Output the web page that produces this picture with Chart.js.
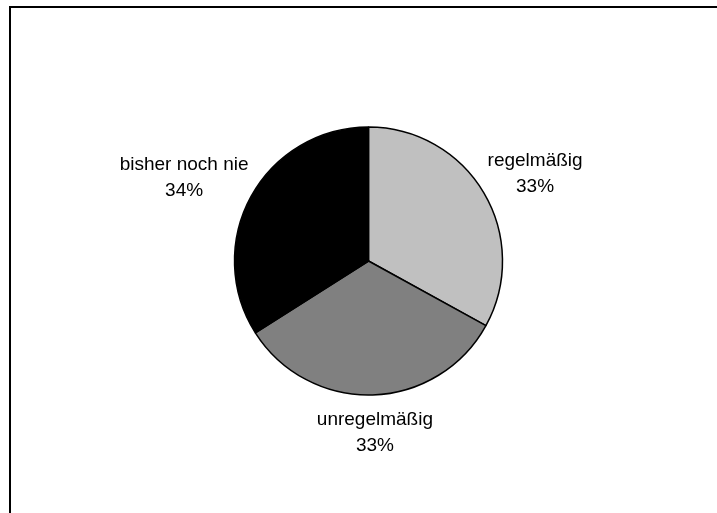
<!DOCTYPE html>
<html>
<head>
<meta charset="utf-8">
<script src="https://cdn.jsdelivr.net/npm/chart.js@4/dist/chart.umd.min.js"></script>
<style>
  html, body { margin: 0; padding: 0; background: #ffffff; }
  #c { display: block; }
</style>
</head>
<body>
<canvas id="c" width="717" height="513"></canvas>
<script>
const categories = ['regelmäßig', 'unregelmäßig', 'bisher noch nie'];
const shares = [33, 33, 34];
const sliceColors = ['#C0C0C0', '#808080', '#000000'];

const FONT = '19px "Liberation Sans", Arial, sans-serif';

const framePlugin = {
  id: 'frame',
  beforeDraw(chart) {
    const ctx = chart.ctx;
    ctx.save();
    ctx.fillStyle = '#ffffff';
    ctx.fillRect(0, 0, chart.width, chart.height);
    ctx.strokeStyle = '#000000';
    ctx.lineWidth = 2;
    ctx.strokeRect(10, 7, chart.width + 20, chart.height + 20);
    ctx.restore();
  }
};

const labelPlugin = {
  id: 'sliceLabels',
  afterDatasetsDraw(chart) {
    const ctx = chart.ctx;
    const meta = chart.getDatasetMeta(0);
    const data = chart.data.datasets[0].data;
    ctx.save();
    ctx.font = FONT;
    ctx.fillStyle = '#000000';
    ctx.textAlign = 'center';
    ctx.textBaseline = 'middle';
    const lineH = 26;
    meta.data.forEach((arc, i) => {
      const p = arc.getProps(['x', 'y', 'startAngle', 'endAngle', 'outerRadius'], true);
      const mid = (p.startAngle + p.endAngle) / 2;
      const dx = Math.cos(mid), dy = Math.sin(mid);
      const lines = [chart.data.labels[i], data[i] + '%'];
      const w = Math.max(...lines.map(t => ctx.measureText(t).width));
      const h = lines.length * lineH;
      const r = p.outerRadius + 12;
      const ax = p.x + dx * r, ay = p.y + dy * r;
      const cx = ax + dx * w / 2;
      const cy = ay + dy * h / 2;
      lines.forEach((t, k) => {
        ctx.fillText(t, cx, cy - h / 2 + lineH / 2 + k * lineH);
      });
    });
    ctx.restore();
  }
};

new Chart(document.getElementById('c'), {
  type: 'pie',
  data: {
    labels: categories,
    datasets: [{
      data: shares,
      backgroundColor: sliceColors,
      borderColor: '#000000',
      borderWidth: 1.5
    }]
  },
  options: {
    responsive: false,
    animation: false,
    radius: 134,
    layout: { padding: { left: 20, right: 0, top: 9, bottom: 0 } },
    plugins: {
      legend: { display: false },
      tooltip: { enabled: false },
      title: { display: false }
    }
  },
  plugins: [framePlugin, labelPlugin]
});
</script>
</body>
</html>
